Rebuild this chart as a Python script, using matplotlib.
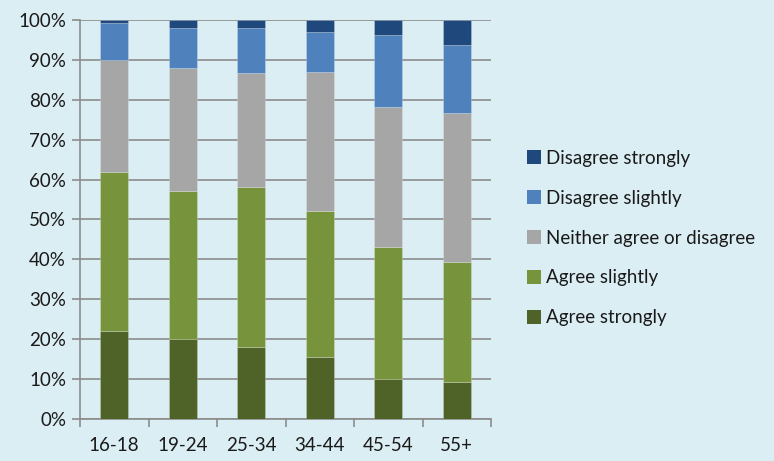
import matplotlib
matplotlib.use("Agg")
import matplotlib.pyplot as plt
from matplotlib.patches import Patch
import numpy as np

categories = ["16-18", "19-24", "25-34", "34-44", "45-54", "55+"]
series_names = ["Agree strongly", "Agree slightly", "Neither agree or disagree",
                "Disagree slightly", "Disagree strongly"]
agree_strongly = [22.0, 20.2, 18.1, 15.6, 10.2, 9.3]
agree_slightly = [39.8, 37.0, 40.0, 36.6, 32.9, 30.1]
neither = [28.0, 30.6, 28.5, 34.8, 35.1, 37.2]
disagree_slightly = [9.3, 10.1, 11.3, 10.0, 18.0, 17.1]
disagree_strongly = [0.9, 2.1, 2.1, 3.0, 3.8, 6.3]
yticks = [0, 10, 20, 30, 40, 50, 60, 70, 80, 90, 100]

series = [agree_strongly, agree_slightly, neither, disagree_slightly, disagree_strongly]
colors = ["#4F6228", "#77933C", "#A6A6A6", "#4F81BD", "#1F497D"]
bg = "#DBEEF4"
font = "Lato"
fs = 13.5

fig = plt.figure(figsize=(7.74, 4.61), dpi=100, facecolor=bg)
ax = fig.add_axes([80/774, 1-419.3/461, (491-80)/774, (419.3-19.7)/461])
ax.set_facecolor(bg)

x = np.arange(len(categories))
bottom = np.zeros(len(categories))
for vals, c in zip(series, colors):
    ax.bar(x, vals, 0.41, bottom=bottom, color=c, edgecolor=(1, 1, 1, 0.25),
           linewidth=0.6, zorder=3)
    bottom += np.array(vals)

ax.set_xlim(-0.5, len(categories) - 0.5)
ax.set_ylim(0, 100)
ax.set_yticks(yticks)
ax.set_yticklabels([f"{v}%" for v in yticks], fontsize=fs, family=font, color="#1a1a1a")
ax.yaxis.grid(True, color="#8C8C8C", linewidth=1.2, zorder=0)
ax.set_axisbelow(True)

ax.set_xticks(x)
ax.set_xticklabels(categories, fontsize=fs, family=font, color="#1a1a1a")
ax.set_xticks(np.arange(-0.5, len(categories)), minor=True)
ax.tick_params(axis="x", which="major", length=0, pad=13)
ax.tick_params(axis="x", which="minor", length=6, color="#8C8C8C", width=1.2)
ax.tick_params(axis="y", length=6, color="#8C8C8C", width=1.2, pad=4)

for s in ["top", "right"]:
    ax.spines[s].set_visible(False)
for s in ["left", "bottom"]:
    ax.spines[s].set_color("#8C8C8C")
    ax.spines[s].set_linewidth(1.2)

handles = [Patch(facecolor=c, edgecolor="none") for c in colors]
leg = fig.legend(handles[::-1], series_names[::-1], loc="upper left",
                 bbox_to_anchor=(510/774, 1-133/461), frameon=False,
                 handlelength=0.75, handleheight=0.75, handletextpad=0.27,
                 labelspacing=1.22, prop={"family": font, "size": fs})
for t in leg.get_texts():
    t.set_color("#1a1a1a")

fig.savefig("out.png", dpi=100, facecolor=bg)
